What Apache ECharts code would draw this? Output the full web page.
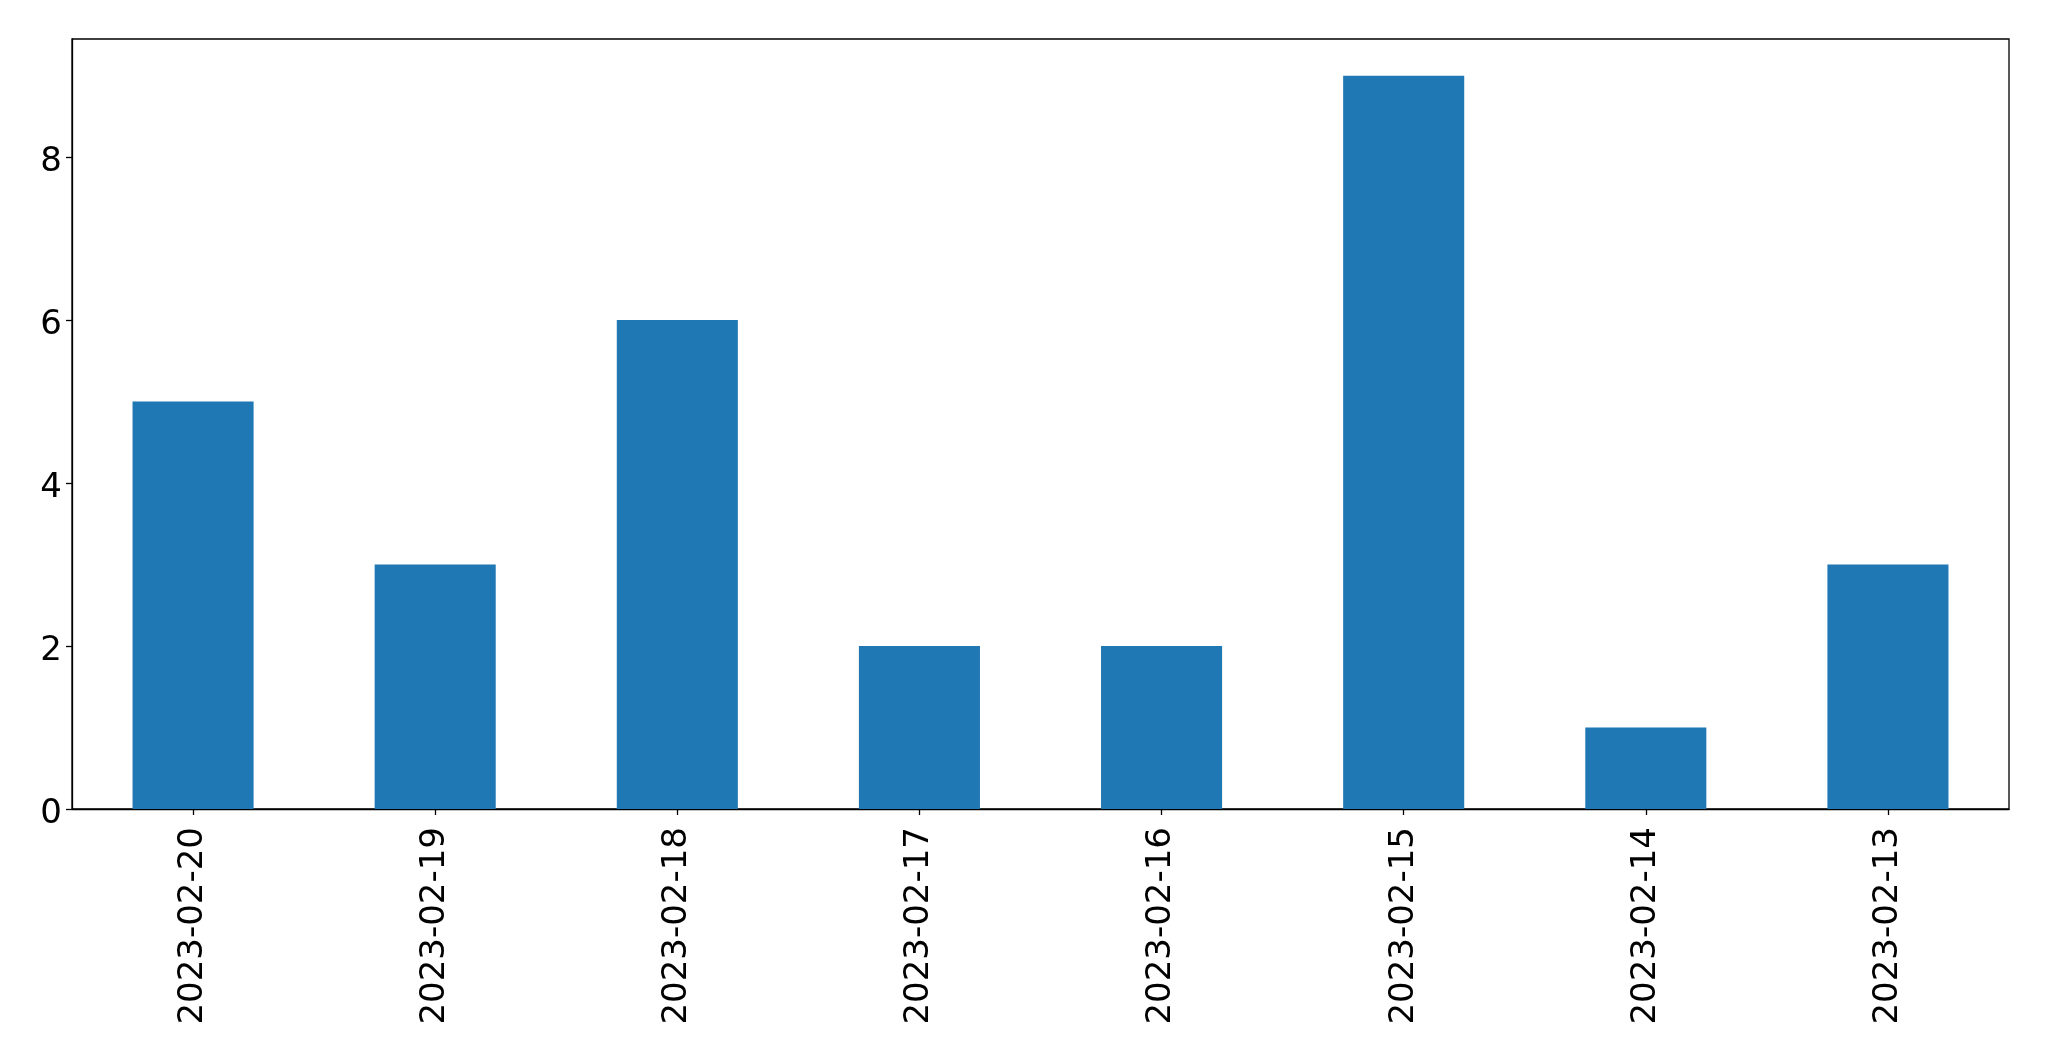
<!DOCTYPE html>
<html>
<head>
<meta charset="utf-8">
<script src="https://cdn.jsdelivr.net/npm/echarts@6/dist/echarts.min.js"></script>
<style>
html,body{margin:0;padding:0;background:#fff;}
#chart{width:2049px;height:1061px;}
</style>
</head>
<body>
<div id="chart"></div>
<script>
const categories = ['2023-02-20','2023-02-19','2023-02-18','2023-02-17','2023-02-16','2023-02-15','2023-02-14','2023-02-13'];
const values = [5, 3, 6, 2, 2, 9, 1, 3];
const yTicks = [0, 2, 4, 6, 8];

const chart = echarts.init(document.getElementById('chart'), null, {renderer: 'canvas'});
const font = 'DejaVu Sans';
chart.setOption({
  animation: false,
  backgroundColor: '#ffffff',
  grid: {
    left: 72, top: 39, width: 1937, height: 770,
    show: true, borderColor: '#000000', borderWidth: 1.3, backgroundColor: 'transparent'
  },
  xAxis: {
    type: 'category',
    data: categories,
    boundaryGap: true,
    axisLine: {show: true, lineStyle: {color: '#000', width: 1.3}},
    axisTick: {show: true, alignWithLabel: true, length: 6, lineStyle: {color: '#000', width: 1.3}},
    axisLabel: {rotate: 90, fontSize: 34, fontFamily: font, color: '#000', margin: 18, interval: 0}
  },
  yAxis: {
    type: 'value',
    min: 0, max: 9.45,
    splitLine: {show: false},
    axisLine: {show: true, lineStyle: {color: '#000', width: 1.3}},
    axisTick: {show: true, length: 6, customValues: yTicks, lineStyle: {color: '#000', width: 1.3}},
    axisLabel: {
      fontSize: 34, fontFamily: font, color: '#000', margin: 10,
      verticalAlign: 'top', lineHeight: 10,
      customValues: yTicks
    }
  },
  series: [{
    type: 'bar',
    data: values,
    barWidth: '50%',
    itemStyle: {color: '#1f77b4'}
  }]
});
</script>
</body>
</html>
